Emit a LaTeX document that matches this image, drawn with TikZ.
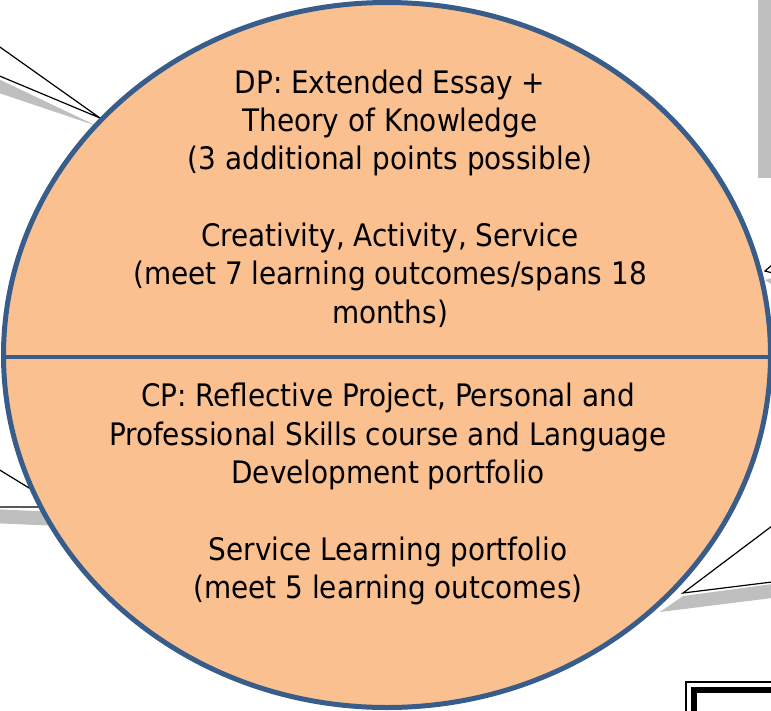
\documentclass[tikz,border=0pt]{standalone}
\usepackage{fontspec}
\setmainfont{DejaVu Sans Condensed}
\usepackage{tikz}
\usepackage{xcolor}
\usetikzlibrary{positioning,shapes.geometric}

\definecolor{tanfill}{HTML}{FAC090}
\definecolor{rimblue}{HTML}{385D8A}
\definecolor{shadowgray}{HTML}{BFBFBF}

\begin{document}
\begin{tikzpicture}[
    x=1pt,
    y=-1pt,
    line join=miter
]

\tikzstyle{core}=[
    ellipse,
    draw=rimblue,
    fill=tanfill,
    line width=5pt,
    minimum width=767pt,
    minimum height=705pt,
    inner sep=0pt
]
\tikzstyle{block}=[
    align=center,
    inner sep=0pt,
    font=\fontsize{31}{38.3}\selectfont
]
\tikzstyle{pointer}=[
    draw=black,
    fill=white,
    line width=1.2pt
]
\tikzstyle{drop}=[
    fill=shadowgray
]

\useasboundingbox (0,0) rectangle (771,710);
\clip (0,0) rectangle (771,710);

\fill[drop] (758,-5) rectangle (780,178);

\fill[drop] (97,126) -- (-10,75) -- (-10,90) -- cycle;
\draw[pointer] (100,118) -- (-10,40) -- (-10,72) -- cycle;

\fill[drop] (60,512) -- (-10,509) -- (-10,523) -- (60,526) -- cycle;
\draw[pointer] (60,507) -- (-10,464) -- (-10,507) -- cycle;

\fill[drop] (765,280) -- (780,276) -- (780,290) -- cycle;
\draw[pointer] (765,271) -- (780,258) -- (780,275) -- cycle;

\fill[drop] (660,612) -- (683,596) -- (780,583) -- (780,597) -- cycle;
\draw[pointer] (683,593) -- (780,520) -- (780,581) -- cycle;

\draw[line width=2pt] (686,682) rectangle (800,800);
\draw[line width=6.5pt] (694,690) rectangle (800,800);

\node[core] (goal) at (387,355) {};
\draw[rimblue, line width=4.5pt] ([yshift=-2pt]goal.west) -- ([yshift=-2pt]goal.east);

\node[block] (dp) at (390,198.5) {DP: Extended Essay +\\
Theory of Knowledge\\
(3 additional points possible)\\[38.3pt]
Creativity, Activity, Service\\
(meet 7 learning outcomes/spans 18\\
months)};

\node[block] (cp) at (388,494) {CP: Reflective Project, Personal and\\
Professional Skills course and Language\\
Development portfolio\\[38.3pt]
Service Learning portfolio\\
(meet 5 learning outcomes)};

\end{tikzpicture}
\end{document}
